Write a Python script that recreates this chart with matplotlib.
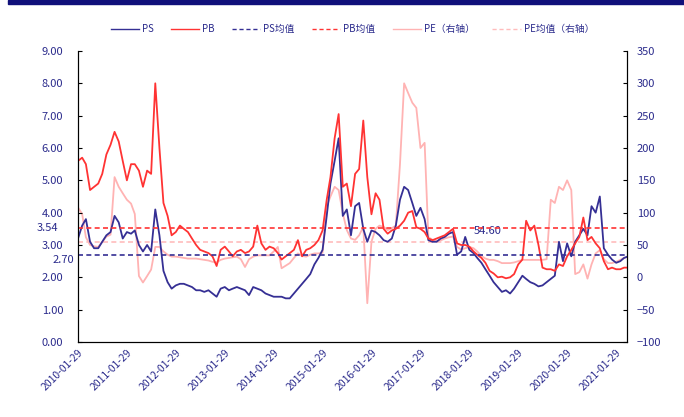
import numpy as np
import pandas as pd
import matplotlib
matplotlib.use('Agg')
import matplotlib.pyplot as plt
import matplotlib.transforms as mtrans
from matplotlib.patches import Rectangle

plt.rcParams['font.family'] = ['Noto Sans CJK SC', 'DejaVu Sans']

# monthly readings, 2010-01 .. 2021-04
ps = [3.2, 3.6, 3.8, 3.1, 2.9, 2.9, 3.1, 3.3, 3.4, 3.9, 3.7, 3.2,
      3.4, 3.35, 3.45, 3.0, 2.8, 3.0, 2.8, 4.1, 3.3, 2.2, 1.85, 1.65,
      1.75, 1.8, 1.8, 1.75, 1.7, 1.6, 1.6, 1.55, 1.6, 1.5, 1.4, 1.65,
      1.7, 1.6, 1.65, 1.7, 1.65, 1.6, 1.45, 1.7, 1.65, 1.6, 1.5, 1.45,
      1.4, 1.4, 1.4, 1.35, 1.35, 1.5, 1.65, 1.8, 1.95, 2.1, 2.4, 2.6,
      2.85, 3.9, 4.9, 5.6, 6.3, 3.9, 4.1, 3.3, 4.2, 4.3, 3.5, 3.1,
      3.45, 3.4, 3.3, 3.15, 3.1, 3.2, 3.6, 4.4, 4.8, 4.7, 4.3, 3.9,
      4.15, 3.8, 3.15, 3.1, 3.1, 3.2, 3.25, 3.35, 3.4, 2.7, 2.8, 3.25,
      2.85, 2.75, 2.6, 2.45, 2.25, 2.05, 1.85, 1.7, 1.55, 1.6, 1.5, 1.65,
      1.85, 2.05, 1.95, 1.85, 1.8, 1.72, 1.75, 1.85, 1.95, 2.05, 3.1, 2.5,
      3.05, 2.65, 3.1, 3.3, 3.5, 3.3, 4.2, 4.0, 4.5, 2.9, 2.7, 2.55,
      2.45, 2.5, 2.6, 2.65]
pb = [5.6, 5.7, 5.5, 4.7, 4.8, 4.9, 5.2, 5.8, 6.1, 6.5, 6.2, 5.6,
      5.0, 5.5, 5.5, 5.3, 4.8, 5.3, 5.2, 8.0, 6.0, 4.3, 3.9, 3.3,
      3.4, 3.6, 3.5, 3.4, 3.2, 3.0, 2.85, 2.8, 2.75, 2.65, 2.35, 2.85,
      2.95, 2.8, 2.65, 2.8, 2.85, 2.75, 2.8, 2.95, 3.6, 3.05, 2.85, 2.95,
      2.9, 2.75, 2.55, 2.65, 2.75, 2.85, 3.15, 2.65, 2.85, 2.9, 3.0, 3.15,
      3.45, 4.4, 5.1, 6.3, 7.05, 4.8, 4.9, 4.2, 5.2, 5.35, 6.85, 5.1,
      3.95, 4.6, 4.4, 3.5, 3.35, 3.45, 3.5, 3.6, 3.75, 4.0, 4.05, 3.55,
      3.5, 3.4, 3.2, 3.15, 3.2, 3.25, 3.3, 3.4, 3.5, 3.05, 3.0, 3.0,
      2.95, 2.8, 2.7, 2.6, 2.45, 2.2, 2.12, 2.0, 2.02, 1.97, 2.0, 2.1,
      2.4, 2.55, 3.75, 3.45, 3.6, 3.0, 2.3, 2.25, 2.25, 2.2, 2.4, 2.35,
      2.65, 2.85, 3.05, 3.25, 3.85, 3.15, 3.25, 3.05, 2.9, 2.5, 2.25, 2.3,
      2.25, 2.25, 2.3, 2.3]
pe = [108, 98, 62, 50, 48, 47, 55, 63, 66, 155, 140, 130,
      120, 114, 98, 2, -8, 2, 12, 47, 47, 40, 35, 32,
      32, 31, 30, 29, 29, 29, 28, 27, 26, 24, 23, 27,
      29, 30, 31, 32, 28, 16, 28, 32, 34, 34, 34, 34,
      40, 47, 14, 18, 22, 30, 37, 33, 32, 35, 37, 37,
      38, 110, 125, 140, 135, 99, 73, 60, 58, 65, 78, -40,
      55, 75, 80, 78, 73, 76, 80, 175, 300, 285, 270, 262,
      200, 208, 62, 58, 56, 57, 60, 62, 63, 47, 43, 45,
      47, 45, 40, 33, 29, 27, 27, 25, 22, 22, 22, 23,
      25, 27, 27, 27, 27, 27, 27, 28, 120, 115, 140, 135,
      150, 135, 5, 8, 20, -2, 20, 37, 42, 28, 22, 22,
      24, 27, 30, 32]
ps_mean = 2.70
pb_mean = 3.54
pe_mean = 54.60

dates = pd.date_range('2010-01-01', periods=len(ps), freq='MS') + pd.Timedelta(days=28)
tick_dates = pd.date_range('2010-01-01', '2021-01-01', freq='YS') + pd.Timedelta(days=28)

navy = '#352f94'
red = '#ff3333'
pink = '#ffb3b3'
pink2 = '#ffbcbc'
txt = '#2b2b8c'

fig = plt.figure(figsize=(6.84, 4.17), dpi=100)
fig.patches.append(Rectangle((8 / 684, 1 - 4 / 417), 1, 4 / 417, transform=fig.transFigure,
                             color='#10107a', zorder=0))
ax = fig.add_axes([78 / 684, 1 - 342 / 417, 549 / 684, 291 / 417])
ax2 = ax.twinx()
ax.set_zorder(ax2.get_zorder() + 1)
ax.patch.set_visible(False)

lw = 1.3
dash = (0, (3, 2))
h_ps, = ax.plot(dates, ps, color=navy, lw=lw, label='PS')
h_pb, = ax.plot(dates, pb, color=red, lw=lw, label='PB')
h_psm = ax.axhline(ps_mean, color=navy, lw=1.2, ls=dash, label='PS均值')
h_pbm = ax.axhline(pb_mean, color=red, lw=1.2, ls=dash, label='PB均值')
h_pe, = ax2.plot(dates, pe, color=pink, lw=lw, label='PE（右轴）')
h_pem = ax2.axhline(pe_mean, color=pink2, lw=1.2, ls=dash, label='PE均值（右轴）')

ax.set_xlim(pd.Timestamp('2010-01-29'), pd.Timestamp('2021-04-20'))
ax.set_ylim(0, 9)
ax2.set_ylim(-100, 350)
ax.set_yticks(np.arange(0, 10, 1))
ax.set_yticklabels(['%.2f' % v for v in np.arange(0, 10, 1)])
ax2.set_yticks(np.arange(-100, 400, 50))
ax.set_xticks(tick_dates)
ax.set_xticklabels([d.strftime('%Y-%m-%d') for d in tick_dates], rotation=45,
                   ha='right', rotation_mode='anchor')

for a in (ax, ax2):
    a.spines['top'].set_visible(False)
    a.tick_params(axis='y', direction='in', length=3, labelsize=8, labelcolor=txt, pad=10.5)
ax2.tick_params(axis='y', pad=7)
ax.tick_params(axis='x', length=0, labelsize=7.5, labelcolor=txt, pad=4)

blend = mtrans.blended_transform_factory(ax.transAxes, ax.transData)
ax.annotate('%.2f' % pb_mean, xy=(0, pb_mean), xycoords=blend, xytext=(-14, 0),
            textcoords='offset points', ha='right', va='center', fontsize=8, color=txt)
ax.annotate('%.2f' % ps_mean, xy=(0, ps_mean), xycoords=blend, xytext=(-3, -4),
            textcoords='offset points', ha='right', va='center', fontsize=8, color=txt)
ax2.annotate('%.2f' % pe_mean, xy=(pd.Timestamp('2018-03-01'), pe_mean), xytext=(0, 4),
             textcoords='offset points', ha='left', va='bottom', fontsize=8, color=txt)

leg = fig.legend(handles=[h_ps, h_pb, h_psm, h_pbm, h_pe, h_pem], loc='center',
                 bbox_to_anchor=(0.515, 1 - 29 / 417), ncol=6, frameon=False, fontsize=7,
                 handlelength=2.9, columnspacing=1.8, handletextpad=0.3, labelcolor=txt)
for line in leg.get_lines():
    line.set_linewidth(1.0)

fig.savefig('out.png', dpi=100)
